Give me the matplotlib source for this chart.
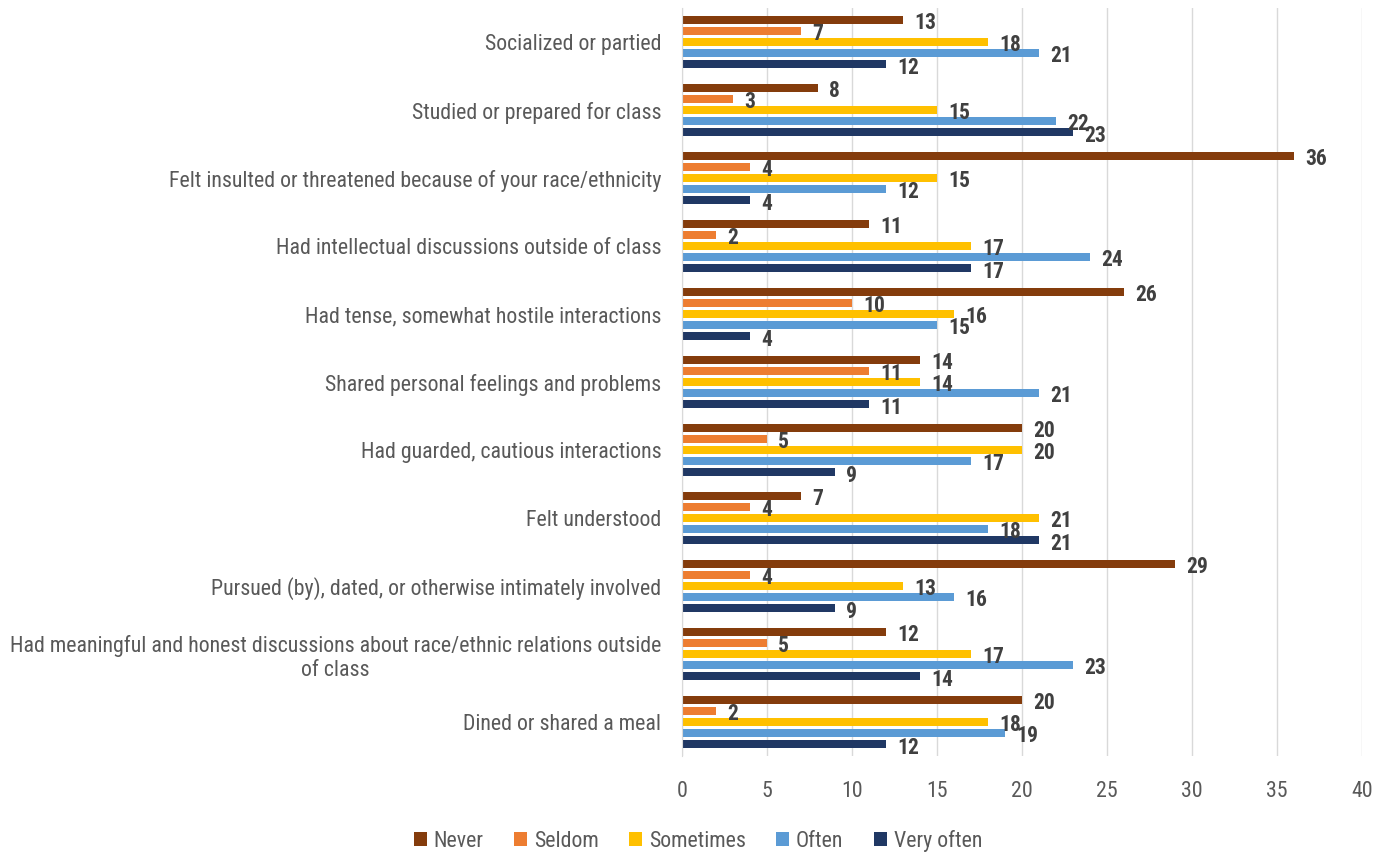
import matplotlib
matplotlib.use("Agg")
import matplotlib.pyplot as plt
import numpy as np
from matplotlib import font_manager

names = {f.name for f in font_manager.fontManager.ttflist}
fam = [f for f in ["Roboto Condensed", "Open Sans Condensed", "Liberation Sans Narrow",
                   "DejaVu Sans Condensed", "Open Sans", "DejaVu Sans"] if f in names]
plt.rcParams['font.family'] = fam

categories = [
    "Socialized or partied",
    "Studied or prepared for class",
    "Felt insulted or threatened because of your race/ethnicity",
    "Had intellectual discussions outside of class",
    "Had tense, somewhat hostile interactions",
    "Shared personal feelings and problems",
    "Had guarded, cautious interactions",
    "Felt understood",
    "Pursued (by), dated, or otherwise intimately involved",
    "Had meaningful and honest discussions about race/ethnic relations outside\nof class",
    "Dined or shared a meal",
]
series_names = ["Never", "Seldom", "Sometimes", "Often", "Very often"]
never = [13, 8, 36, 11, 26, 14, 20, 7, 29, 12, 20]
seldom = [7, 3, 4, 2, 10, 11, 5, 4, 4, 5, 2]
sometimes = [18, 15, 15, 17, 16, 14, 20, 21, 13, 17, 18]
often = [21, 22, 12, 24, 15, 21, 17, 18, 16, 23, 19]
very_often = [12, 23, 4, 17, 4, 11, 9, 21, 9, 14, 12]
series = [never, seldom, sometimes, often, very_often]
colors = ["#843C0C", "#ED7D31", "#FFC000", "#5B9BD5", "#203864"]
xticks = [0, 5, 10, 15, 20, 25, 30, 35, 40]

fig = plt.figure(figsize=(13.9, 8.57), dpi=100)
ax = fig.add_axes([682/1390, 1-756/857, (1362-682)/1390, (756-8)/857])

# fit category label size so the longest line spans ~654 px as in reference
renderer = fig.canvas.get_renderer()
probe = fig.text(0, 0, categories[9].split("\n")[0], fontsize=13.5)
w = probe.get_window_extent(renderer).width
probe.remove()
cat_fs = min(16.5, 13.5 * 652.0 / w)

n = len(categories)
step = 0.162
h = 0.12
y = np.arange(n)
for i, (vals, c, nm) in enumerate(zip(series, colors, series_names)):
    pos = y + (i - 2) * step
    ax.barh(pos, vals, height=h, color=c, label=nm, zorder=3)
    for p, v in zip(pos, vals):
        ax.annotate(str(v), (v, p), xytext=(8, -2.5), textcoords='offset points',
                    ha='left', va='center', fontsize=15.5, fontweight='bold',
                    color='#404040', zorder=4)

ax.set_ylim(n - 0.5, -0.5)
ax.set_xlim(0, 40)
ax.set_xticks(xticks)
ax.set_yticks(y)
ax.set_yticklabels(categories, fontsize=cat_fs, color='#595959', multialignment='center')
ax.tick_params(axis='y', length=0, pad=15)
ax.tick_params(axis='x', length=0, pad=18, labelsize=cat_fs, labelcolor='#595959')
ax.grid(axis='x', color='#D9D9D9', linewidth=1, zorder=0)
for s in ['top', 'right', 'bottom']:
    ax.spines[s].set_visible(False)
ax.spines['left'].set_color('#D9D9D9')
ax.spines['left'].set_zorder(5)

fig.legend(loc='center', bbox_to_anchor=(698/1390, 1-841/857), ncol=5, frameon=False,
           fontsize=cat_fs, handlelength=0.6, handleheight=0.6, handletextpad=0.3,
           columnspacing=1.4, labelcolor='#595959')

fig.savefig("out.png", dpi=100)
